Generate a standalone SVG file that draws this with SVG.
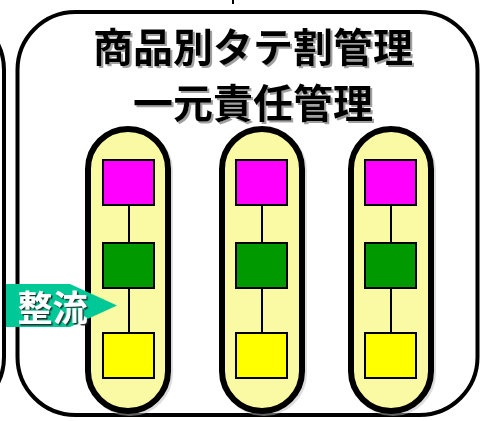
<svg xmlns="http://www.w3.org/2000/svg" width="480" height="421" viewBox="0 0 480 421">
<defs>
<filter id="tshadow" x="-10%" y="-20%" width="130%" height="150%">
<feDropShadow dx="2" dy="2" stdDeviation="0.6" flood-color="#888" flood-opacity="0.8"/>
</filter>
<filter id="ashadow" x="-10%" y="-20%" width="130%" height="150%">
<feDropShadow dx="1.5" dy="1.5" stdDeviation="0.5" flood-color="#222" flood-opacity="0.9"/>
</filter>
<style>
.frame{fill:#fff;stroke:#000;stroke-width:4}
.pill{fill:#FAFAA5;stroke:#000;stroke-width:6}
.pshadow{fill:none;stroke:#bbb;stroke-width:6;opacity:0.5}
.box{stroke:#000;stroke-width:2}
.m{fill:#FF00FF}.g{fill:#009900}.y{fill:#FFFF00}
.conn{stroke:#000;stroke-width:2;fill:none}
.title{font-family:"Noto Sans CJK JP","Noto Sans CJK SC",sans-serif;font-weight:bold;font-size:40px;text-anchor:middle;fill:#000;filter:url(#tshadow)}
.arr{font-family:"Noto Sans CJK JP","Noto Sans CJK SC",sans-serif;font-weight:bold;font-size:35px;text-anchor:middle;fill:#fff;filter:url(#ashadow)}
</style>
</defs>
<rect width="480" height="421" fill="#fff"/>
<g id="left-frame"><rect class="frame" x="-460" y="12" width="464" height="403" rx="58"/></g>
<line x1="233" y1="0" x2="233" y2="4" stroke="#000" stroke-width="2"/>
<g id="main-frame">
<rect class="frame" x="17.5" y="12" width="460" height="403" rx="58"/>
<text class="title" x="253" y="62">商品別タテ割管理</text>
<text class="title" x="253" y="118" font-size="41">一元責任管理</text>
</g>
<g id="pill1">
<rect class="pshadow" x="90" y="131" width="80" height="282" rx="40"/>
<rect class="pill" x="88" y="129" width="80" height="282" rx="40"/>
</g>
<g id="pill2">
<rect class="pshadow" x="224" y="131" width="80" height="282" rx="40"/>
<rect class="pill" x="222" y="129" width="80" height="282" rx="40"/>
</g>
<g id="pill3">
<rect class="pshadow" x="353" y="131" width="80" height="282" rx="40"/>
<rect class="pill" x="351" y="129" width="80" height="282" rx="40"/>
</g>
<g id="connectors">
<path class="conn" d="M129 205V243M129 288V333M262 205V243M262 288V333M391 205V243M391 288V333"/>
</g>
<g id="p1-top"><rect class="box m" x="103" y="160" width="51" height="45"/></g>
<g id="p1-mid"><rect class="box g" x="103" y="243" width="51" height="45"/></g>
<g id="p1-bot"><rect class="box y" x="103" y="333" width="51" height="45"/></g>
<g id="p2-top"><rect class="box m" x="236" y="160" width="51" height="45"/></g>
<g id="p2-mid"><rect class="box g" x="236" y="243" width="51" height="45"/></g>
<g id="p2-bot"><rect class="box y" x="236" y="333" width="51" height="45"/></g>
<g id="p3-top"><rect class="box m" x="365" y="160" width="51" height="45"/></g>
<g id="p3-mid"><rect class="box g" x="365" y="243" width="51" height="45"/></g>
<g id="p3-bot"><rect class="box y" x="365" y="333" width="51" height="45"/></g>
<g id="arrow">
<polygon points="6,284 70,284 117,305.5 70,327 6,327" fill="#00C896"/>
<text class="arr" x="52.5" y="321">整流</text>
</g>
</svg>
